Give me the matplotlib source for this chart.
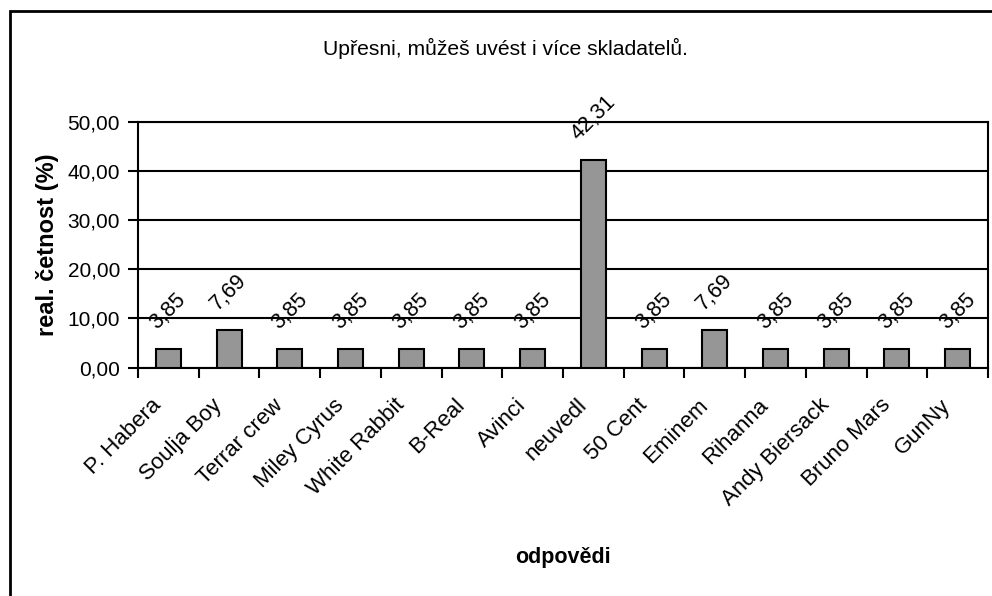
import matplotlib
matplotlib.use("Agg")
import matplotlib.pyplot as plt
from matplotlib.patches import Rectangle
from matplotlib.transforms import ScaledTranslation

plt.rcParams['font.family'] = ['Liberation Sans', 'DejaVu Sans']

categories = ["P. Habera", "Soulja Boy", "Terrar crew", "Miley Cyrus", "White Rabbit",
              "B-Real", "Avinci", "neuvedl", "50 Cent", "Eminem", "Rihanna",
              "Andy Biersack", "Bruno Mars", "GunNy"]
values = [3.85, 7.69, 3.85, 3.85, 3.85, 3.85, 3.85, 42.31, 3.85, 7.69, 3.85, 3.85, 3.85, 3.85]
yticks = [0, 10, 20, 30, 40, 50]
ytick_labels = ["0,00", "10,00", "20,00", "30,00", "40,00", "50,00"]

W, H = 992, 596
fig = plt.figure(figsize=(W / 100, H / 100), dpi=100)

# outer chart border (left and top visible, rest runs off the image)
fig.patches.append(Rectangle((10 / W, -0.2), 1.2, (H - 11) / H + 0.2,
                             transform=fig.transFigure, fill=False,
                             edgecolor="black", linewidth=2))

ax = fig.add_axes([138 / W, (H - 367.5) / H, (988 - 138) / W, (367.5 - 121.7) / H])

x = list(range(len(categories)))
ax.bar(x, values, width=0.41, color="#969696", edgecolor="black", linewidth=1.5, zorder=3)

for xi, v in zip(x, values):
    ax.annotate(f"{v:.2f}".replace(".", ","), (xi, v), xytext=(0, 11),
                textcoords="offset points", rotation=45, ha="center", va="bottom",
                fontsize=15.5, zorder=4)

ax.set_xlim(-0.5, len(categories) - 0.5)
ax.set_ylim(0, 50)
ax.set_yticks(yticks)
ax.set_yticklabels(ytick_labels, fontsize=15)
ax.yaxis.grid(True, color="black", linewidth=1.5, zorder=0)

# x ticks between categories, labels at centers
ax.set_xticks([i - 0.5 for i in range(len(categories) + 1)])
ax.set_xticklabels([])
ax.set_xticks(x, minor=True)
ax.set_xticklabels(categories, minor=True, rotation=45, ha="right", va="center",
                   rotation_mode="anchor", fontsize=16)
ax.tick_params(axis="x", which="minor", length=0, pad=25)
ax.tick_params(axis="x", which="major", length=7, width=1.5, direction="out")
ax.tick_params(axis="y", length=7, width=1.5, direction="out", pad=6)
shift = ScaledTranslation(-10 / 100, 0, fig.dpi_scale_trans)
for lab in ax.get_xticklabels(minor=True):
    lab.set_transform(lab.get_transform() + shift)

for s in ax.spines.values():
    s.set_linewidth(1.5)

ax.set_ylabel("real. četnost (%)", fontsize=17, fontweight="bold", labelpad=6)
fig.text(563 / W, 1 - 557 / H, "odpovědi", ha="center", va="center",
         fontsize=15.5, fontweight="bold")
fig.text(505 / W, 1 - 48 / H, "Upřesni, můžeš uvést i více skladatelů.", ha="center",
         va="center", fontsize=15.2)

fig.savefig("out.png", dpi=100)
